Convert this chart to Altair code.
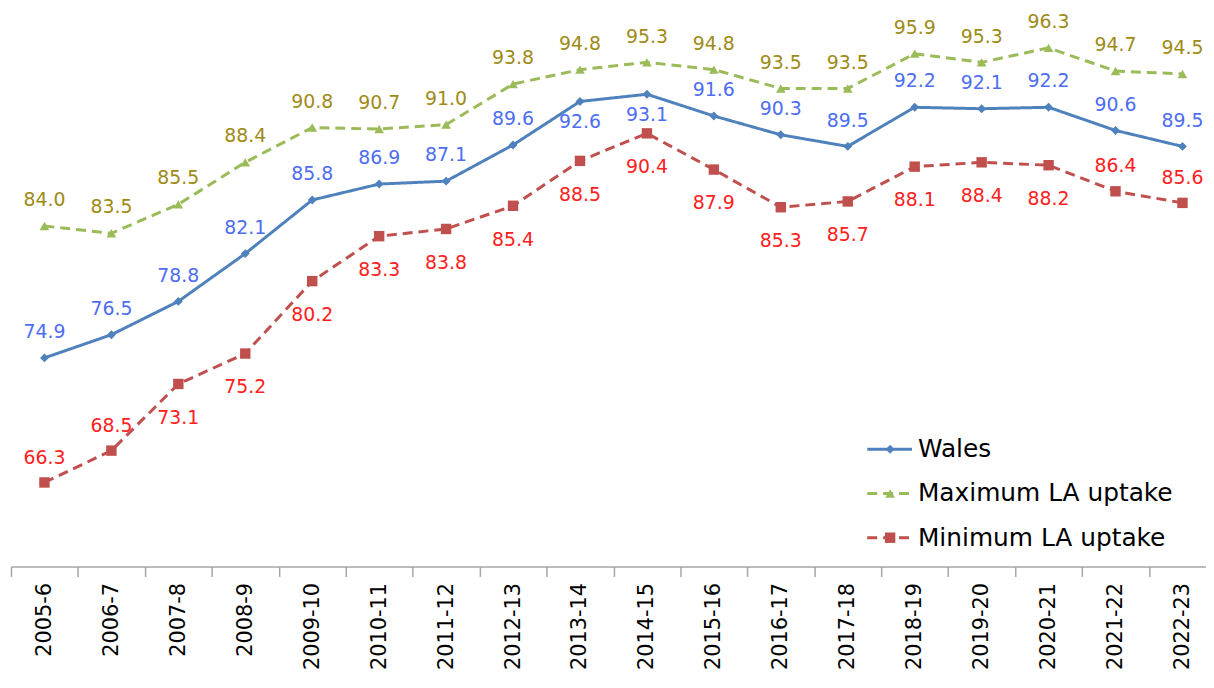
import altair as alt
import pandas as pd

years = ["2005-6", "2006-7", "2007-8", "2008-9", "2009-10", "2010-11", "2011-12",
         "2012-13", "2013-14", "2014-15", "2015-16", "2016-17", "2017-18",
         "2018-19", "2019-20", "2020-21", "2021-22", "2022-23"]
wales = [74.9, 76.5, 78.8, 82.1, 85.8, 86.9, 87.1, 89.6, 92.6, 93.1, 91.6, 90.3,
         89.5, 92.2, 92.1, 92.2, 90.6, 89.5]
max_la = [84.0, 83.5, 85.5, 88.4, 90.8, 90.7, 91.0, 93.8, 94.8, 95.3, 94.8, 93.5,
          93.5, 95.9, 95.3, 96.3, 94.7, 94.5]
min_la = [66.3, 68.5, 73.1, 75.2, 80.2, 83.3, 83.8, 85.4, 88.5, 90.4, 87.9, 85.3,
          85.7, 88.1, 88.4, 88.2, 86.4, 85.6]
series_names = ["Wales", "Maximum LA uptake", "Minimum LA uptake"]

# layout: where data labels sit relative to their markers
WALES_BELOW = {"2013-14", "2014-15"}
MIN_ABOVE = {"2005-6", "2006-7", "2021-22", "2022-23"}

rows = []
for name, vals in zip(series_names, [wales, max_la, min_la]):
    for yr, v in zip(years, vals):
        if name == "Wales":
            place = "below" if yr in WALES_BELOW else "above"
        elif name == "Minimum LA uptake":
            place = "above" if yr in MIN_ABOVE else "below"
        else:
            place = "above"
        rows.append({"year": yr, "series": name, "value": v, "place": place})
df = pd.DataFrame(rows)

line_colors = ["#4F81BD", "#9BBB59", "#C0504D"]
text_colors = {"Wales": "#4D6DF3", "Maximum LA uptake": "#9E8B16", "Minimum LA uptake": "#FF2020"}
FONT = "DejaVu Sans"

color_enc = alt.Color("series:N", scale=alt.Scale(domain=series_names, range=line_colors), legend=None)
dash_enc = alt.StrokeDash("series:N", scale=alt.Scale(domain=series_names, range=[[1, 0], [10, 6], [10, 6]]), legend=None)
shape_enc = alt.Shape("series:N", scale=alt.Scale(domain=series_names, range=["diamond", "triangle-up", "square"]), legend=None)
size_enc = alt.Size("series:N", scale=alt.Scale(domain=series_names, range=[80, 110, 120]), legend=None)

x_enc = alt.X(
    "year:N", sort=years,
    scale=alt.Scale(domain=years, range=[0, 1213], paddingInner=0, paddingOuter=0),
    axis=alt.Axis(title=None, labelAngle=270, labelFontSize=21, labelFont=FONT,
                  labelColor="#000000", domainColor="#A6A6A6", domainWidth=1.5,
                  tickColor="#A6A6A6", tickWidth=1.5, tickSize=10, tickBand="extent",
                  labelPadding=6, labelOverlap=False, grid=False),
)
y_enc = alt.Y("value:Q", scale=alt.Scale(domain=[60.5, 98.9], nice=False, zero=False), axis=None)

base = alt.Chart(df).encode(x=x_enc, y=y_enc)

lines = base.mark_line(strokeWidth=3).encode(color=color_enc, strokeDash=dash_enc)
points = base.mark_point(filled=True, opacity=1).encode(color=color_enc, shape=shape_enc, size=size_enc)

text_layers = []
for name, place, dy in [("Wales", "above", -26), ("Wales", "below", 21),
                        ("Maximum LA uptake", "above", -26),
                        ("Minimum LA uptake", "above", -25), ("Minimum LA uptake", "below", 34)]:
    t = base.transform_filter(
        (alt.datum.series == name) & (alt.datum.place == place)
    ).mark_text(dy=dy, color=text_colors[name], fontSize=19, font=FONT).encode(
        text=alt.Text("value:Q", format=".1f")
    )
    text_layers.append(t)

# legend
leg_df = pd.DataFrame({"series": series_names, "row": [0, 1, 2]})
leg_y = alt.Y("row:Q", scale=alt.Scale(domain=[0, 2], range=[442, 531]), axis=None)
leg_base = alt.Chart(leg_df).encode(y=leg_y)
leg_rule = leg_base.mark_rule(strokeWidth=3).encode(
    x=alt.value(862), x2=alt.value(907), color=color_enc, strokeDash=dash_enc)
leg_pt = leg_base.mark_point(filled=True, opacity=1).encode(
    x=alt.value(885), color=color_enc, shape=shape_enc, size=size_enc)
leg_txt = leg_base.mark_text(align="left", baseline="middle", fontSize=25, font=FONT, color="#000000").encode(
    x=alt.value(913), text="series:N")

chart = alt.layer(lines, points, *text_layers, leg_rule, leg_pt, leg_txt).resolve_scale(
    y="independent"
).properties(
    width=1203, height=560,
    autosize=alt.AutoSizeParams(type="none"),
    padding={"left": 3, "top": 0, "right": 0, "bottom": 108},
    background="white",
).configure_view(stroke=None)

chart.save("out.html", embed_options={"renderer": "svg", "actions": False})
